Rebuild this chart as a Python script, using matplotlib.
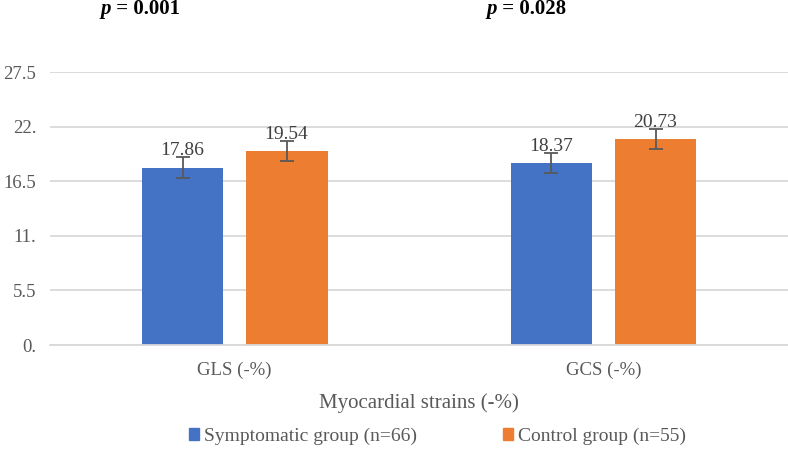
import matplotlib
matplotlib.use("Agg")
import matplotlib.pyplot as plt
import numpy as np
from matplotlib.patches import Patch

plt.rcParams['font.family'] = ['Liberation Serif', 'DejaVu Serif']

categories = ["GLS (-%)", "GCS (-%)"]
symptomatic = [17.86, 18.37]
control = [19.54, 20.73]
symptomatic_err = [1.05, 1.0]
control_err = [1.05, 1.0]
p_values = ["0.001", "0.028"]
yticks = [0, 5.5, 11, 16.5, 22, 27.5]
ytick_labels = ["0.", "5.5", "11.", "16.5", "22.", "27.5"]

blue = "#4472C4"
orange = "#ED7D31"
txt = "#595959"

fig = plt.figure(figsize=(7.88, 4.49), dpi=100)
ax = fig.add_axes([0.0635, 0.2316, 0.9365, 0.608])

x = np.arange(len(categories))
w = 0.222
off = 0.141
ax.bar(x - off, symptomatic, w, color=blue, zorder=2)
ax.bar(x + off, control, w, color=orange, zorder=2)
ax.errorbar(x - off, symptomatic, yerr=symptomatic_err, fmt='none',
            ecolor=txt, elinewidth=1.3, capsize=5, capthick=1.3, zorder=3)
ax.errorbar(x + off, control, yerr=control_err, fmt='none',
            ecolor=txt, elinewidth=1.3, capsize=5, capthick=1.3, zorder=3)

for xi, v, e in zip(x - off, symptomatic, symptomatic_err):
    ax.text(xi, v + e - 0.2, f"{v:.2f}", ha='center', va='bottom',
            fontsize=14, color="#404040")
for xi, v, e in zip(x + off, control, control_err):
    ax.text(xi, v + e - 0.2, f"{v:.2f}", ha='center', va='bottom',
            fontsize=14, color="#404040")

ax.set_xlim(-0.5, 1.5)
ax.set_ylim(0, 27.5)
ax.set_yticks(yticks)
ax.set_yticklabels(ytick_labels)
ax.set_xticks(x)
ax.set_xticklabels(categories)
ax.tick_params(axis='both', length=0, labelsize=13.5, colors=txt, pad=10)
ax.tick_params(axis='x', pad=12)
ax.yaxis.grid(True, color="#d9d9d9", linewidth=1.3, zorder=0)
ax.set_axisbelow(True)
for s in ['top', 'right', 'left']:
    ax.spines[s].set_visible(False)
ax.spines['bottom'].set_color("#d9d9d9")
ax.spines['bottom'].set_linewidth(1.3)

ax.set_xlabel("Myocardial strains (-%)", fontsize=15, color=txt, labelpad=10)

# p-value annotations above each group: bold italic p, then bold rest
p_x = [111 / 788, 497 / 788]
for px, p in zip(p_x, p_values):
    fig.text(px, 1 - 9 / 449, "p", ha='right', va='center', fontsize=15,
             fontweight='bold', fontstyle='italic', color="black")
    fig.text(px, 1 - 9 / 449, " = " + p, ha='left', va='center',
             fontsize=15, fontweight='bold', color="black")

handles = [Patch(color=blue), Patch(color=orange)]
fig.legend(handles, ["Symptomatic group (n=66)", "Control group (n=55)"],
           loc='center', bbox_to_anchor=(0.555, 1 - 436 / 449), ncol=2,
           frameon=False, fontsize=14, labelcolor=txt,
           handlelength=0.55, handleheight=0.55, handletextpad=0.25,
           columnspacing=4.4)

fig.savefig("out.png", dpi=100)
